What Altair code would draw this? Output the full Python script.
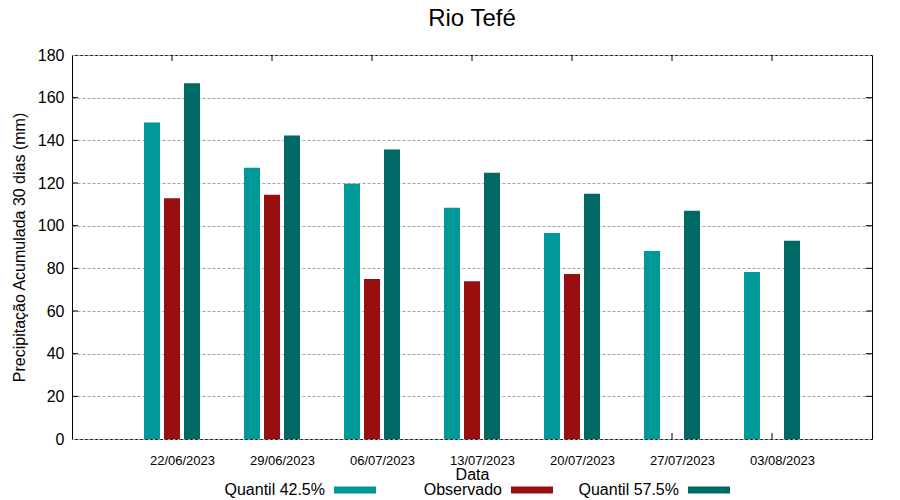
import altair as alt
import pandas as pd

dates = ["22/06/2023", "29/06/2023", "06/07/2023", "13/07/2023",
         "20/07/2023", "27/07/2023", "03/08/2023"]
series = ["Quantil 42.5%", "Observado", "Quantil 57.5%"]
q425 = [148.4, 127.2, 119.7, 108.4, 96.6, 88.1, 78.3]
obs = [112.8, 114.5, 75.0, 74.0, 77.3, None, None]
q575 = [166.7, 142.3, 135.7, 124.8, 115.0, 107.0, 92.9]
colors = ["#009999", "#990e0e", "#006966"]
y_ticks = [0, 20, 40, 60, 80, 100, 120, 140, 160, 180]

rows = []
for d, a, b, c in zip(dates, q425, obs, q575):
    for s, v in zip(series, (a, b, c)):
        if v is not None:
            rows.append({"Data": d, "Serie": s, "Valor": v})
df = pd.DataFrame(rows)
ticks_df = pd.DataFrame({"Valor": y_ticks[1:-1]})
dates_df = pd.DataFrame({"Data": dates})

W, H = 800, 384

xenc = alt.X(
    "Data:N", sort=dates,
    scale=alt.Scale(paddingInner=0.4, paddingOuter=0.7),
    axis=alt.Axis(title="Data", labelAngle=0, labelOffset=43, ticks=False, domain=False,
                  labelFontSize=13, labelPadding=21, titlePadding=-1,
                  titleFontSize=16, titleFontWeight="normal", labelColor="black",
                  titleColor="black"),
)
yenc = alt.Y(
    "Valor:Q",
    scale=alt.Scale(domain=[0, 180], nice=False),
    axis=alt.Axis(values=y_ticks, title="Precipitação Acumulada 30 dias (mm)",
                  grid=True, gridDash=[3, 2], gridColor="#a0a0a0", gridWidth=1,
                  ticks=False, domain=False, labelPadding=8, labelFontSize=16,
                  titleFontSize=16, titleFontWeight="normal", titlePadding=10,
                  labelColor="black", titleColor="black"),
)

bars = alt.Chart(df).mark_bar(size=16).encode(
    x=xenc,
    y=yenc,
    xOffset=alt.XOffset("Serie:N", sort=series,
                        scale=alt.Scale(paddingInner=0.2, paddingOuter=0.1)),
    color=alt.Color(
        "Serie:N",
        scale=alt.Scale(domain=series, range=colors),
        legend=alt.Legend(
            title=None, orient="none", legendX=262, legendY=414,
            direction="horizontal", columns=3,
            symbolType="M-1,-0.17H1V0.17H-1Z", symbolSize=1764,
            symbolStrokeWidth=0, symbolOpacity=1,
            labelAlign="right", labelOffset={"expr": "-51"}, labelFontSize=16,
            labelColor="black", gridAlign="all", columnPadding=25,
        ),
    ),
)

left_ticks = alt.Chart(ticks_df).mark_rule(color="black").encode(
    y="Valor:Q", x=alt.value(0), x2=alt.value(6)
)
right_ticks = alt.Chart(ticks_df).mark_rule(color="black").encode(
    y="Valor:Q", x=alt.value(W - 6), x2=alt.value(W)
)
bottom_ticks = alt.Chart(dates_df).mark_rule(color="black").encode(
    x=alt.X("Data:N", sort=dates), y=alt.value(H - 6), y2=alt.value(H)
)
top_ticks = alt.Chart(dates_df).mark_rule(color="black").encode(
    x=alt.X("Data:N", sort=dates), y=alt.value(0), y2=alt.value(6)
)

chart = alt.layer(left_ticks, right_ticks, bottom_ticks, top_ticks, bars).properties(
    width=W, height=H,
    title=alt.TitleParams("Rio Tefé", fontSize=24, fontWeight="normal",
                          anchor="middle", offset=16, color="black"),
    autosize=alt.AutoSizeParams(type="none"),
    padding={"left": 64, "top": 47, "right": 20, "bottom": 60},
).configure(font="Liberation Sans").configure_view(
    stroke="black", strokeWidth=1
)

chart.save("out.html", embed_options={"renderer": "svg", "actions": False})
